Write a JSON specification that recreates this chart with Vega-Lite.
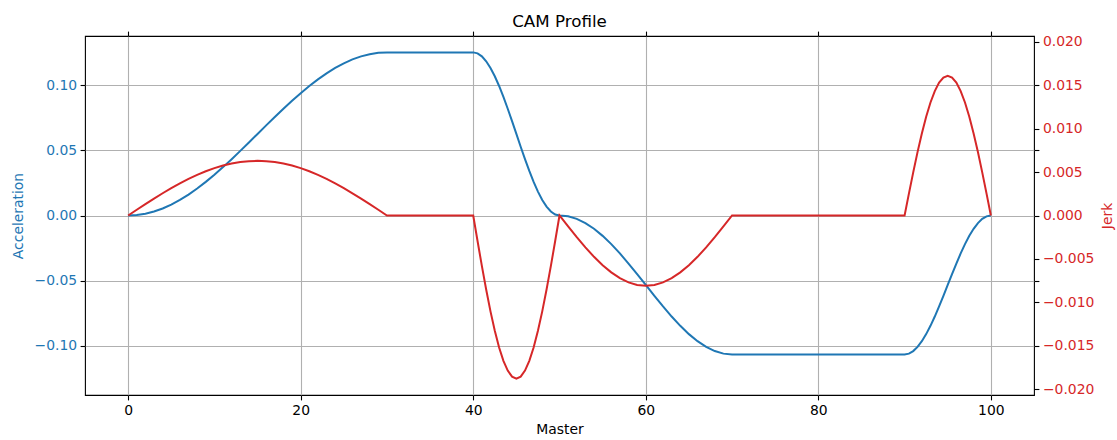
{
  "$schema": "https://vega.github.io/schema/vega-lite/v6.json",
  "width": 949,
  "height": 359,
  "autosize": "none",
  "padding": {"left": 85, "top": 36, "right": 83, "bottom": 45},
  "background": "white",
  "title": {
    "text": "CAM Profile",
    "font": "DejaVu Sans",
    "fontSize": 16.7,
    "fontWeight": "normal",
    "color": "black",
    "anchor": "middle",
    "offset": 0
  },
  "config": {
    "view": {"stroke": "black", "strokeWidth": 1.1},
    "font": "DejaVu Sans",
    "axis": {
      "labelFont": "DejaVu Sans",
      "labelFontSize": 13.9,
      "titleFont": "DejaVu Sans",
      "titleFontSize": 13.9,
      "titleFontWeight": "normal",
      "tickColor": "black",
      "tickSize": 4.9,
      "tickWidth": 1.1,
      "labelPadding": 3.5,
      "domain": false,
      "gridColor": "#b0b0b0",
      "gridWidth": 1.1,
      "gridOpacity": 1
    }
  },
  "data": {
    "values": [
      {"x": 0, "acc": 0, "jerk": 0},
      {"x": 1, "acc": 0.000343, "jerk": 0.000659},
      {"x": 2, "acc": 0.001366, "jerk": 0.00131},
      {"x": 3, "acc": 0.003059, "jerk": 0.001947},
      {"x": 4, "acc": 0.005403, "jerk": 0.002562},
      {"x": 5, "acc": 0.008373, "jerk": 0.00315},
      {"x": 6, "acc": 0.011936, "jerk": 0.003703},
      {"x": 7, "acc": 0.016054, "jerk": 0.004216},
      {"x": 8, "acc": 0.020679, "jerk": 0.004682},
      {"x": 9, "acc": 0.025763, "jerk": 0.005097},
      {"x": 10, "acc": 0.03125, "jerk": 0.005456},
      {"x": 11, "acc": 0.037079, "jerk": 0.005755},
      {"x": 12, "acc": 0.043186, "jerk": 0.005992},
      {"x": 13, "acc": 0.049506, "jerk": 0.006162},
      {"x": 14, "acc": 0.055967, "jerk": 0.006265},
      {"x": 15, "acc": 0.0625, "jerk": 0.0063},
      {"x": 16, "acc": 0.069033, "jerk": 0.006265},
      {"x": 17, "acc": 0.075494, "jerk": 0.006162},
      {"x": 18, "acc": 0.081814, "jerk": 0.005992},
      {"x": 19, "acc": 0.087921, "jerk": 0.005755},
      {"x": 20, "acc": 0.09375, "jerk": 0.005456},
      {"x": 21, "acc": 0.099237, "jerk": 0.005097},
      {"x": 22, "acc": 0.104321, "jerk": 0.004682},
      {"x": 23, "acc": 0.108946, "jerk": 0.004216},
      {"x": 24, "acc": 0.113064, "jerk": 0.003703},
      {"x": 25, "acc": 0.116627, "jerk": 0.00315},
      {"x": 26, "acc": 0.119597, "jerk": 0.002562},
      {"x": 27, "acc": 0.121941, "jerk": 0.001947},
      {"x": 28, "acc": 0.123634, "jerk": 0.00131},
      {"x": 29, "acc": 0.124657, "jerk": 0.000659},
      {"x": 30, "acc": 0.125, "jerk": 0},
      {"x": 40, "acc": 0.125, "jerk": 0},
      {"x": 40.5, "acc": 0.124231, "jerk": -0.002941},
      {"x": 41, "acc": 0.121941, "jerk": -0.00581},
      {"x": 41.5, "acc": 0.118188, "jerk": -0.008535},
      {"x": 42, "acc": 0.113064, "jerk": -0.01105},
      {"x": 42.5, "acc": 0.106694, "jerk": -0.013294},
      {"x": 43, "acc": 0.099237, "jerk": -0.01521},
      {"x": 43.5, "acc": 0.090874, "jerk": -0.016751},
      {"x": 44, "acc": 0.081814, "jerk": -0.01788},
      {"x": 44.5, "acc": 0.072277, "jerk": -0.018569},
      {"x": 45, "acc": 0.0625, "jerk": -0.0188},
      {"x": 45.5, "acc": 0.052723, "jerk": -0.018569},
      {"x": 46, "acc": 0.043186, "jerk": -0.01788},
      {"x": 46.5, "acc": 0.034126, "jerk": -0.016751},
      {"x": 47, "acc": 0.025763, "jerk": -0.01521},
      {"x": 47.5, "acc": 0.018306, "jerk": -0.013294},
      {"x": 48, "acc": 0.011936, "jerk": -0.01105},
      {"x": 48.5, "acc": 0.006812, "jerk": -0.008535},
      {"x": 49, "acc": 0.003059, "jerk": -0.00581},
      {"x": 49.5, "acc": 0.000769, "jerk": -0.002941},
      {"x": 50, "acc": 0, "jerk": 0},
      {"x": 51, "acc": -0.000656, "jerk": -0.001267},
      {"x": 52, "acc": -0.002606, "jerk": -0.002503},
      {"x": 53, "acc": -0.005804, "jerk": -0.003677},
      {"x": 54, "acc": -0.01017, "jerk": -0.004761},
      {"x": 55, "acc": -0.015596, "jerk": -0.005728},
      {"x": 56, "acc": -0.02195, "jerk": -0.006553},
      {"x": 57, "acc": -0.029075, "jerk": -0.007217},
      {"x": 58, "acc": -0.036795, "jerk": -0.007704},
      {"x": 59, "acc": -0.04492, "jerk": -0.008},
      {"x": 60, "acc": -0.05325, "jerk": -0.0081},
      {"x": 61, "acc": -0.06158, "jerk": -0.008},
      {"x": 62, "acc": -0.069705, "jerk": -0.007704},
      {"x": 63, "acc": -0.077425, "jerk": -0.007217},
      {"x": 64, "acc": -0.08455, "jerk": -0.006553},
      {"x": 65, "acc": -0.090904, "jerk": -0.005728},
      {"x": 66, "acc": -0.09633, "jerk": -0.004761},
      {"x": 67, "acc": -0.100696, "jerk": -0.003677},
      {"x": 68, "acc": -0.103894, "jerk": -0.002503},
      {"x": 69, "acc": -0.105844, "jerk": -0.001267},
      {"x": 70, "acc": -0.1065, "jerk": 0},
      {"x": 90, "acc": -0.1065, "jerk": 0},
      {"x": 90.5, "acc": -0.105844, "jerk": 0.002519},
      {"x": 91, "acc": -0.103894, "jerk": 0.004975},
      {"x": 91.5, "acc": -0.100696, "jerk": 0.007309},
      {"x": 92, "acc": -0.09633, "jerk": 0.009463},
      {"x": 92.5, "acc": -0.090904, "jerk": 0.011384},
      {"x": 93, "acc": -0.08455, "jerk": 0.013025},
      {"x": 93.5, "acc": -0.077425, "jerk": 0.014345},
      {"x": 94, "acc": -0.069705, "jerk": 0.015312},
      {"x": 94.5, "acc": -0.06158, "jerk": 0.015902},
      {"x": 95, "acc": -0.05325, "jerk": 0.0161},
      {"x": 95.5, "acc": -0.04492, "jerk": 0.015902},
      {"x": 96, "acc": -0.036795, "jerk": 0.015312},
      {"x": 96.5, "acc": -0.029075, "jerk": 0.014345},
      {"x": 97, "acc": -0.02195, "jerk": 0.013025},
      {"x": 97.5, "acc": -0.015596, "jerk": 0.011384},
      {"x": 98, "acc": -0.01017, "jerk": 0.009463},
      {"x": 98.5, "acc": -0.005804, "jerk": 0.007309},
      {"x": 99, "acc": -0.002606, "jerk": 0.004975},
      {"x": 99.5, "acc": -0.000656, "jerk": 0.002519},
      {"x": 100, "acc": 0, "jerk": 0}
    ]
  },
  "layer": [
    {
      "mark": {"type": "line", "color": "#1f77b4", "strokeWidth": 2},
      "encoding": {
        "x": {
          "field": "x",
          "type": "quantitative",
          "scale": {"domain": [-5, 105], "nice": false, "zero": false},
          "axis": {
            "orient": "bottom",
            "title": "Master",
            "values": [0, 20, 40, 60, 80, 100],
            "format": "d",
            "labelColor": "black",
            "titleColor": "black",
            "titlePadding": 5,
            "grid": true
          }
        },
        "y": {
          "field": "acc",
          "type": "quantitative",
          "scale": {"domain": [-0.13755, 0.13755], "nice": false, "zero": false},
          "axis": {
            "orient": "left",
            "title": "Acceleration",
            "values": [-0.1, -0.05, 0, 0.05, 0.1],
            "format": ".2f",
            "labelColor": "#1f77b4",
            "titleColor": "#1f77b4",
            "titlePadding": 9,
            "grid": true
          }
        }
      }
    },
    {
      "mark": {"type": "line", "color": "#d62728", "strokeWidth": 2},
      "encoding": {
        "x": {
          "field": "x",
          "type": "quantitative",
          "scale": {"domain": [-5, 105], "nice": false, "zero": false},
          "axis": {
            "orient": "top",
            "title": null,
            "values": [0, 20, 40, 60, 80, 100],
            "labels": false,
            "grid": false
          }
        },
        "y": {
          "field": "jerk",
          "type": "quantitative",
          "scale": {"domain": [-0.02069, 0.02069], "nice": false, "zero": false},
          "axis": {
            "orient": "right",
            "title": "Jerk",
            "titleAngle": 270,
            "titleBaseline": "top",
            "values": [-0.02, -0.015, -0.01, -0.00752, -0.005, 0, 0.005, 0.00752, 0.01, 0.015, 0.02],
            "format": ".3f",
            "labelExpr": "abs(datum.value) == 0.00752 ? '' : datum.label",
            "labelColor": "#d62728",
            "titleColor": "#d62728",
            "titlePadding": 7,
            "grid": false
          }
        }
      }
    }
  ],
  "resolve": {"scale": {"y": "independent"}, "axis": {"x": "independent"}}
}
